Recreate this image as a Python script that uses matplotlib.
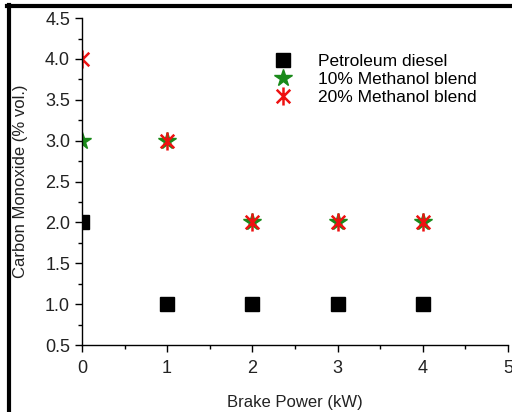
import matplotlib
matplotlib.use("Agg")
import matplotlib.pyplot as plt
from matplotlib.ticker import MultipleLocator, FormatStrFormatter
from matplotlib.lines import Line2D
from matplotlib.path import Path

plt.rcParams['font.family'] = ['Liberation Sans', 'DejaVu Sans']

brake_power = [0, 1, 2, 3, 4]
diesel = [2.0, 1.0, 1.0, 1.0, 1.0]
meth10 = [3.0, 3.0, 2.0, 2.0, 2.0]
meth20 = [4.0, 3.0, 2.0, 2.0, 2.0]
labels = ["Petroleum diesel", "10% Methanol blend", "20% Methanol blend"]

# asterisk marker: vertical stroke plus two diagonals
d = 0.75
ast = Path([(0, -1), (0, 1), (-d, -d), (d, d), (-d, d), (d, -d)],
           [Path.MOVETO, Path.LINETO, Path.MOVETO, Path.LINETO,
            Path.MOVETO, Path.LINETO])

fig = plt.figure(figsize=(5.12, 4.12), dpi=100)
ax = fig.add_axes([0.160, 0.1626, 0.832, 0.7934])

ax.plot(brake_power, diesel, linestyle='none', marker='s', markersize=10,
        color='black', label=labels[0])
ax.plot(brake_power, meth10, linestyle='none', marker='*', markersize=13,
        color='#1a8a1a', label=labels[1])
ax.plot(brake_power, meth20, linestyle='none', marker=ast, markersize=13,
        markeredgewidth=1.8, color='#ee1111', label=labels[2])

ax.set_xlim(0, 5)
ax.set_ylim(0.5, 4.5)
ax.xaxis.set_major_locator(MultipleLocator(1))
ax.xaxis.set_minor_locator(MultipleLocator(0.5))
ax.yaxis.set_major_locator(MultipleLocator(0.5))
ax.yaxis.set_minor_locator(MultipleLocator(0.25))
ax.yaxis.set_major_formatter(FormatStrFormatter('%.1f'))

for s in ['top', 'right']:
    ax.spines[s].set_visible(False)
for s in ['left', 'bottom']:
    ax.spines[s].set_linewidth(1.0)
ax.tick_params(which='major', direction='out', length=5, width=1.0,
               labelsize=13, colors='black', labelcolor='#222222')
ax.tick_params(axis='x', which='major', pad=5.5)
ax.tick_params(which='minor', direction='out', length=3, width=1.0)

ax.set_xlabel("Brake Power (kW)", fontsize=12, color='#222222')
ax.set_ylabel("Carbon Monoxide (% vol.)", fontsize=12, color='#222222')
ax.xaxis.set_label_coords(0.5, -0.153)
ax.yaxis.set_label_coords(-0.127, 0.5)

ax.legend(loc='upper left', bbox_to_anchor=(0.439, 0.89), frameon=False,
          fontsize=12.5, handletextpad=1.2, labelspacing=0.16, handlelength=1.6,
          borderaxespad=0, borderpad=0)

# image frame lines (left and top)
fig.add_artist(Line2D([0.017, 0.017], [0, 0.988], transform=fig.transFigure,
                      color='black', linewidth=3))
fig.add_artist(Line2D([0.014, 1.0], [0.986, 0.986], transform=fig.transFigure,
                      color='black', linewidth=3))

fig.savefig("out.png", dpi=100)
